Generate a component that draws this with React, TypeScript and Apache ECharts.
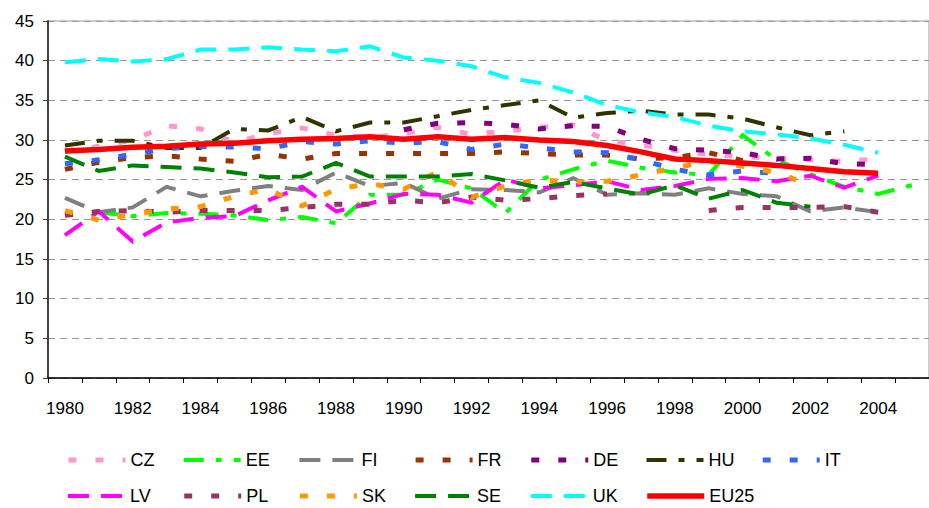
import React, { useEffect, useRef } from "react";
import * as echarts from "echarts";

const YEARS = ["1980","1981","1982","1983","1984","1985","1986","1987","1988","1989","1990","1991","1992","1993","1994","1995","1996","1997","1998","1999","2000","2001","2002","2003","2004","2005"];

const CZ = [28.6, 29.2, 30.0, 31.8, 31.4, 29.7, 30.8, 31.5, 30.6, 30.3, 30.8, 31.6, 30.7, 31.1, 31.6, 31.9, 29.9, 29.4, 28.7, 28.2, 27.9, 27.7, 27.5, 27.3, 27.6, null];
const EE = [null, 20.9, 20.4, 20.8, 20.7, 20.5, 19.9, 20.3, 19.5, 23.1, 23.1, 25.0, 23.9, 20.8, 25.0, 26.3, 27.4, 26.5, 25.9, 25.6, 30.6, 27.5, 25.7, 24.1, 23.2, 24.3];
const FI = [22.7, 20.9, 21.5, 24.1, 22.9, 23.6, 24.2, 23.7, 25.9, 24.2, 24.6, 22.6, 23.8, 23.7, 23.4, 25.2, 23.1, 23.3, 23.1, 23.9, 23.2, 22.9, 21.0, 21.5, 20.9, null];
const FR = [26.3, 27.2, 27.8, 28.0, 27.6, 27.3, 28.2, 27.6, 28.3, 28.3, 28.3, 28.3, 28.3, 28.5, 28.3, 28.1, 28.1, 27.6, 27.8, 28.4, 27.4, null, null, null, null, null];
const DE = [null, null, null, null, null, null, null, null, null, null, 31.3, 32.1, 32.2, 32.0, 31.4, 31.8, 31.7, 30.1, 28.9, 28.7, 28.4, 27.6, 27.7, 27.0, 26.9, null];
const HU = [29.3, 29.9, 29.9, 29.0, 29.0, 31.4, 31.2, 32.9, 31.1, 32.2, 32.2, 33.0, 33.8, 34.4, 35.0, 32.8, 33.4, 33.7, 33.2, 33.2, 32.7, 31.6, 30.6, 31.1, null, null];
const IT = [27.0, 27.5, 28.2, 28.9, 29.2, 29.1, 28.9, 29.8, 29.5, 29.9, 29.6, 29.8, 28.8, 29.5, 29.0, 28.5, 28.4, 27.5, 26.3, 25.6, 26.1, 25.8, null, null, null, null];
const LV = [18.0, 21.0, 17.2, 19.6, 20.2, 20.4, 22.4, 24.1, 21.0, 22.0, 23.2, 23.1, 22.1, 25.0, 23.9, 24.3, 24.8, 23.7, 24.2, 25.1, 25.2, 24.8, 25.5, 24.0, 25.5, null];
const PL = [20.5, 21.0, 21.1, 20.9, 21.1, 21.1, 21.1, 21.5, 21.9, 21.9, 22.4, 22.1, 22.8, 22.4, 22.6, 23.0, 23.2, null, null, 21.1, 21.5, 21.5, 21.5, 21.6, 20.9, null];
const SK = [21.1, 19.9, 20.6, 21.3, 21.6, 22.9, 23.8, 21.7, 23.8, 24.5, 23.8, 26.0, 22.8, 24.2, 25.0, 24.7, 24.8, 25.6, 26.5, 27.3, 26.7, 25.9, 24.3, null, null, null];
const SE = [27.9, 26.1, 26.8, 26.6, 26.4, 25.9, 25.3, 25.4, 27.1, 25.4, 25.4, 25.4, 25.7, 24.9, 24.0, 24.7, 23.9, 23.1, 24.3, 22.6, 23.7, 22.1, 21.6, null, null, null];
const UK = [39.8, 40.2, 39.9, 40.2, 41.4, 41.4, 41.7, 41.4, 41.2, 41.8, 40.4, 40.0, 39.3, 37.9, 37.2, 36.0, 34.4, 33.5, 32.9, 31.8, 31.1, 30.7, 30.2, 29.4, 28.4, null];
const EU25 = [28.6, 28.8, 29.1, 29.2, 29.5, 29.6, 29.9, 30.1, 30.2, 30.4, 30.1, 30.4, 30.1, 30.3, 30.0, 29.8, 29.3, 28.5, 27.6, 27.4, 27.1, 26.8, 26.4, 26.0, 25.8, null];

const LEGEND_ROWS = [
  ["CZ", "EE", "FI", "FR", "DE", "HU", "IT"],
  ["LV", "PL", "SK", "SE", "UK", "EU25"],
];

const DOT = [8, 19];
const DASHDOT = [20, 12, 6, 12];
const LONGDASH = [21, 12];

const SERIES_DEFS: { name: string; data: (number | null)[]; color: string; dash: number[] | "solid"; width: number }[] = [
  { name: "CZ", data: CZ, color: "#FF99CC", dash: DOT, width: 5 },
  { name: "EE", data: EE, color: "#00FF00", dash: DASHDOT, width: 4 },
  { name: "FI", data: FI, color: "#808080", dash: LONGDASH, width: 4 },
  { name: "FR", data: FR, color: "#993300", dash: DOT, width: 5 },
  { name: "DE", data: DE, color: "#800080", dash: DOT, width: 5 },
  { name: "HU", data: HU, color: "#333300", dash: DASHDOT, width: 4 },
  { name: "IT", data: IT, color: "#3366FF", dash: DOT, width: 5 },
  { name: "LV", data: LV, color: "#FF00FF", dash: LONGDASH, width: 4 },
  { name: "PL", data: PL, color: "#993366", dash: DOT, width: 5 },
  { name: "SK", data: SK, color: "#FF9900", dash: DOT, width: 5 },
  { name: "SE", data: SE, color: "#008000", dash: LONGDASH, width: 4 },
  { name: "UK", data: UK, color: "#00FFFF", dash: LONGDASH, width: 4 },
  { name: "EU25", data: EU25, color: "#FF0000", dash: "solid", width: 5.5 },
];

const FONT = "Arial, 'Liberation Sans', sans-serif";

export default function App() {
  const ref = useRef<HTMLDivElement>(null);
  useEffect(() => {
    if (!ref.current) return;
    const chart = echarts.init(ref.current, null, { renderer: "svg" });
    const legends: any[] = [];
    LEGEND_ROWS.forEach((row, r) => {
      row.forEach((name, c) => {
        legends.push({
          orient: "horizontal",
          left: 66 + c * 115.7,
          top: 451 + r * 36,
          padding: 0,
          itemWidth: 57,
          itemHeight: 14,
          itemGap: 0,
          itemStyle: { opacity: 0 },
          lineStyle: { width: "inherit" },
          textStyle: { fontFamily: FONT, fontSize: 18, color: "#000" },
          selectedMode: false,
          data: [name],
        });
      });
    });
    chart.setOption({
      animation: false,
      backgroundColor: "#fff",
      grid: {
        left: 48,
        top: 21,
        bottom: 130,
        right: -7,
        show: true,
        borderColor: "#999",
        borderWidth: 1,
        backgroundColor: "transparent",
        containLabel: false,
      },
      legend: legends,
      xAxis: {
        type: "category",
        data: YEARS,
        boundaryGap: true,
        axisLine: { lineStyle: { color: "#000", width: 1.5 } },
        axisTick: { show: true, interval: 0, length: 5, lineStyle: { color: "#000" } },
        axisLabel: { interval: 1, margin: 22, fontFamily: FONT, fontSize: 17, color: "#000" },
        splitLine: { show: false },
      },
      yAxis: {
        type: "value",
        min: 0,
        max: 45,
        interval: 5,
        axisLine: { show: true, lineStyle: { color: "#404040", width: 2 } },
        axisTick: { show: true, length: 5, lineStyle: { color: "#404040" } },
        axisLabel: { margin: 14, fontFamily: FONT, fontSize: 17, color: "#000" },
        splitLine: { show: true, lineStyle: { color: "#999", width: 1, type: [7, 5] } },
      },
      series: SERIES_DEFS.map((s) => ({
        name: s.name,
        type: "line",
        data: s.data,
        symbol: "none",
        showSymbol: false,
        connectNulls: false,
        smooth: false,
        color: s.color,
        lineStyle: { color: s.color, width: s.width, type: s.dash, cap: "butt", join: "miter" },
      })),
    });
    return () => chart.dispose();
  }, []);
  return (
    <div
      ref={ref}
      style={{ position: "absolute", left: 0, top: 0, width: 929, height: 508, background: "#fff" }}
    />
  );
}
